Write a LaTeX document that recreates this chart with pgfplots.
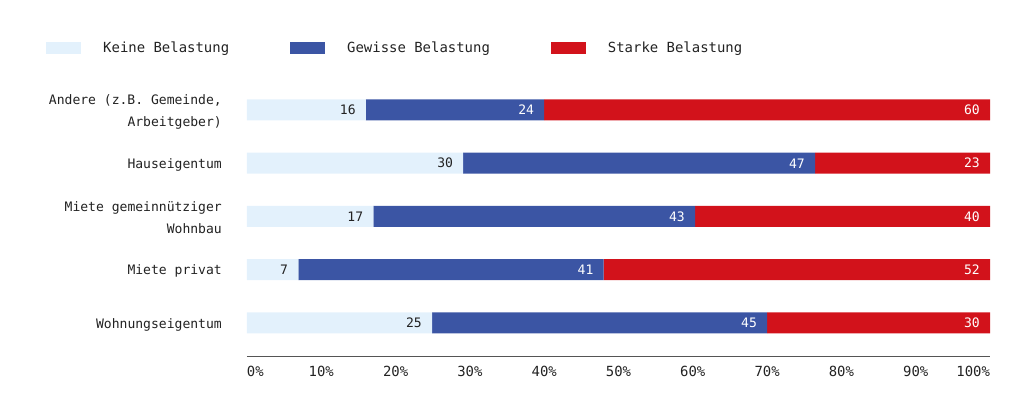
\documentclass[border=0pt]{standalone}
\usepackage{fontspec}
\setmainfont{DejaVu Sans Mono}
\usepackage{pgfplots}
\pgfplotsset{compat=1.18}
\definecolor{cLight}{RGB}{227,241,252}
\definecolor{cBlue}{RGB}{59,85,164}
\definecolor{cRed}{RGB}{210,18,27}
\definecolor{cText}{RGB}{34,34,34}
\definecolor{cAxis}{RGB}{85,85,85}
\newcommand{\cf}{\fontsize{13.1}{22}\selectfont}
\newcommand{\lf}{\fontsize{14}{22}\selectfont}
\begin{document}
\begin{tikzpicture}
\path[use as bounding box] (-247bp,-39bp) rectangle (785bp,356bp);
\begin{axis}[
  at={(0,0)}, anchor=south west,
  scale only axis, width=743bp, height=267.3bp,
  xbar stacked, bar width=21bp,
  xmin=0, xmax=100, ymin=-0.62, ymax=4.4,
  axis x line*=bottom, axis y line*=left,
  x axis line style={draw=cAxis, line width=0.8bp},
  y axis line style={draw=none},
  major tick length=0pt,
  /pgf/number format/assume math mode=true,
  xtick={0,10,20,30,40,50,60,70,80,90,100},
  xticklabels={\makebox[0pt][l]{0\%},10\%,20\%,30\%,40\%,50\%,60\%,70\%,80\%,90\%,\makebox[0pt][r]{100\%}},
  xticklabel style={anchor=north, inner sep=0pt, yshift=-10bp, font=\lf, text=cText},
  ytick={0,1,2,3,4},
  yticklabels={Wohnungseigentum, Miete privat, {Miete gemeinnütziger\\Wohnbau}, Hauseigentum, {Andere (z.B. Gemeinde,\\Arbeitgeber)}},
  yticklabel style={align=right, anchor=east, inner sep=0pt, xshift=-25bp, yshift=-1.5bp, font=\cf, text=cText},
  legend style={at={(-0.2705,1.152)}, anchor=west, draw=none, fill=none, inner sep=0pt,
    font=\lf, text=cText, nodes={inner sep=0pt},
    /tikz/every odd column/.append style={column sep=22bp},
    /tikz/every even column/.append style={column sep=61bp}},
  legend columns=3, legend cell align=left,
  legend image code/.code={\fill[#1] (0bp,-6bp) rectangle (35bp,6bp);},
  visualization depends on={rawx \as \rx},
  nodes near coords, point meta=explicit,
  nodes near coords style={anchor=east, inner sep=0pt, xshift={3.715bp*\rx-10bp}, font=\cf},
]
\addplot[fill=cLight, draw=none, every node near coord/.append style={text=cText}]
  coordinates {(24.9,0)[25] (6.9,1)[7] (17.0,2)[17] (29.1,3)[30] (16.0,4)[16]};
\addplot[fill=cBlue, draw=none, every node near coord/.append style={text=white}]
  coordinates {(45.1,0)[45] (41.1,1)[41] (43.3,2)[43] (47.35,3)[47] (24.0,4)[24]};
\addplot[fill=cRed, draw=none, every node near coord/.append style={text=white}]
  coordinates {(30.0,0)[30] (52.0,1)[52] (39.7,2)[40] (23.55,3)[23] (60.0,4)[60]};
\legend{Keine Belastung, Gewisse Belastung, Starke Belastung}
\end{axis}
\end{tikzpicture}
\end{document}
